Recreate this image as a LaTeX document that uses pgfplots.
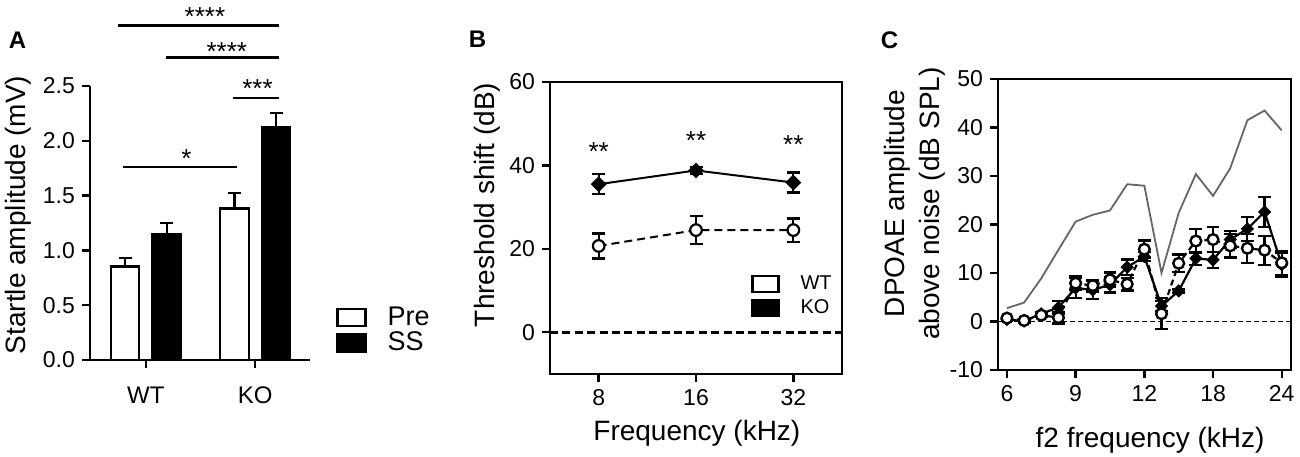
\documentclass[border=0pt]{standalone}
\usepackage{fontspec}
\setmainfont{Liberation Sans}
\usepackage{pgfplots}
\pgfplotsset{compat=1.18}
\begin{document}
\begin{tikzpicture}
\path[use as bounding box] (0,0) rectangle (650pt,228pt);
\pgfplotsset{
  every axis/.append style={
    scale only axis, anchor=south west,
    /pgf/number format/assume math mode=true,
    tick label style={font=\fontsize{11.5}{13}\selectfont},
    label style={font=\fontsize{14}{17.5}\selectfont},
    axis line style={line width=1.2pt, -},
    tick style={line width=1.2pt, black},
    tick align=outside,
    major tick length=4pt,
    tick pos=left,
    clip=false,
  },
}
% ---------------- Panel A ----------------
\begin{axis}[
  at={(45pt,48pt)}, width=110pt, height=137pt,
  xmin=-0.51, xmax=1.5, ymin=0, ymax=2.5,
  axis x line*=bottom, axis y line*=left,
  xtick={0,1}, xticklabels={WT,KO},
  xticklabel style={font=\fontsize{12}{13}\selectfont, yshift=-6pt},
  ytick={0,0.5,1,1.5,2,2.5},
  yticklabel style={/pgf/number format/.cd, fixed, fixed zerofill, precision=1},
  ylabel={Startle amplitude (mV)},
  ylabel style={at={(axis description cs:-0.327,0.529)}, anchor=center},
  bar width=0.26,
  legend style={at={(axis description cs:1.118,0.197)}, anchor=north west, draw=none, fill=none,
    inner sep=0pt, font=\fontsize{13.5}{13.5}\selectfont, row sep=2pt,
    nodes={inner sep=0pt}, /tikz/every odd column/.append style={column sep=10.5pt}},
  legend cell align=left,
]
\addplot[ybar, bar shift=0, fill=white, draw=black, line width=1.2pt,
  legend image code/.code={\draw[solid, line width=1.1pt, draw=black, fill=white] (0pt,-4.25pt) rectangle (14pt,4.25pt);},
  error bars/.cd, y dir=plus, y explicit,
  error bar style={line width=1.1pt},
  error mark options={rotate=90, mark size=3.25pt, line width=1.1pt}]
  coordinates {(-0.19,0.852) +- (0,0.076) (0.81,1.381) +- (0,0.146)};
\addlegendentry{Pre}
\addplot[ybar, bar shift=0, fill=black, draw=black, line width=1.2pt,
  legend image code/.code={\draw[solid, line width=1.1pt, draw=black, fill=black] (0pt,-4.25pt) rectangle (14pt,4.25pt);},
  error bars/.cd, y dir=plus, y explicit,
  error bar style={line width=1.1pt},
  error mark options={rotate=90, mark size=3.25pt, line width=1.1pt}]
  coordinates {(0.19,1.150) +- (0,0.097) (1.19,2.120) +- (0,0.131)};
\addlegendentry{SS}
\draw[line width=1.3pt] (axis cs:-0.25,3.05) -- (axis cs:1.22,3.05);
\draw[line width=1.3pt] (axis cs:0.18,2.76) -- (axis cs:1.22,2.76);
\draw[line width=1.3pt] (axis cs:0.80,2.39) -- (axis cs:1.22,2.39);
\draw[line width=1.3pt] (axis cs:-0.21,1.76) -- (axis cs:0.83,1.76);
\node[font=\fontsize{13}{13}\selectfont, anchor=base, yshift=-7.4pt] at (axis cs:0.54,3.19) {****};
\node[font=\fontsize{13}{13}\selectfont, anchor=base, yshift=-7.4pt] at (axis cs:0.74,2.87) {****};
\node[font=\fontsize{13}{13}\selectfont, anchor=base, yshift=-7.4pt] at (axis cs:1.02,2.53) {***};
\node[font=\fontsize{13}{13}\selectfont, anchor=base, yshift=-7.4pt] at (axis cs:0.37,1.89) {*};
\end{axis}
% ---------------- Panel B ----------------
\begin{axis}[
  at={(275pt,41pt)}, width=146pt, height=146pt,
  xmode=log, log basis x=2, xmin=5.657, xmax=45.25,
  ymin=-10, ymax=60, ytick={0,20,40,60},
  xtick={8,16,32}, xticklabels={8,16,32},
  xticklabel style={yshift=0pt},
  xlabel={Frequency (kHz)},
  xlabel style={at={(axis description cs:0.503,-0.202)}, anchor=center},
  ylabel={Threshold shift (dB)},
  ylabel style={at={(axis description cs:-0.216,0.579)}, anchor=center},
  legend style={at={(axis description cs:0.688,0.342)}, anchor=north west, draw=none, fill=none,
    inner sep=0pt, font=\fontsize{10}{10}\selectfont, row sep=3pt,
    nodes={inner sep=0pt}, /tikz/every odd column/.append style={column sep=10.5pt}},
  legend cell align=left,
]
\addplot[black, line width=1.6pt, dash pattern=on 4pt off 2.2pt, forget plot]
  coordinates {(5.657,0) (45.25,0)};
\addplot[black, line width=1pt, dash pattern=on 4pt off 2.5pt,
  mark=*, mark size=2.9pt, mark options={solid, fill=white, line width=1.1pt},
  legend image code/.code={\draw[solid, line width=1.1pt, draw=black, fill=white] (0pt,-4pt) rectangle (13pt,4pt);},
  error bars/.cd, y dir=both, y explicit,
  error bar style={line width=1.1pt, solid},
  error mark options={rotate=90, mark size=3.25pt, line width=1.1pt, solid}]
  coordinates {(8,20.7) +- (0,3.0) (16,24.5) +- (0,3.3) (32,24.5) +- (0,2.8)};
\addlegendentry{WT}
\addplot[black, line width=1pt,
  mark=square*, mark size=2.3pt, mark options={rotate=45, fill=black},
  legend image code/.code={\draw[solid, line width=1.1pt, draw=black, fill=black] (0pt,-4pt) rectangle (13pt,4pt);},
  error bars/.cd, y dir=both, y explicit,
  error bar style={line width=1.1pt},
  error mark options={rotate=90, mark size=3.25pt, line width=1.1pt}]
  coordinates {(8,35.5) +- (0,2.4) (16,38.8) +- (0,0.8) (32,35.9) +- (0,2.4)};
\addlegendentry{KO}
\node[font=\fontsize{13}{13}\selectfont, anchor=base, yshift=-7.4pt] at (axis cs:8,44.7) {**};
\node[font=\fontsize{13}{13}\selectfont, anchor=base, yshift=-7.4pt] at (axis cs:16,47.4) {**};
\node[font=\fontsize{13}{13}\selectfont, anchor=base, yshift=-7.4pt] at (axis cs:32,46.3) {**};
\end{axis}
% ---------------- Panel C ----------------
\begin{axis}[
  at={(499pt,43pt)}, width=146.5pt, height=145.5pt,
  xmin=-0.52, xmax=16.54, ymin=-10, ymax=50,
  ytick={-10,0,10,20,30,40,50},
  xtick={0,4,8,12,16}, xticklabels={6,9,12,18,24},
  xticklabel style={yshift=0pt},
  xlabel={f2 frequency (kHz)},
  xlabel style={at={(axis description cs:0.519,-0.241)}, anchor=center},
  ylabel={DPOAE amplitude\\above noise (dB SPL)},
  ylabel style={at={(axis description cs:-0.285,0.572)}, anchor=center, align=center},
]
\addplot[black, line width=0.9pt, dash pattern=on 2.5pt off 1.5pt]
  coordinates {(-0.52,0) (16.54,0)};
\addplot[black!60, line width=0.9pt] coordinates {
  (0,2.75) (1,3.9) (2,8.9) (3,14.8) (4,20.6) (5,22.0) (6,22.9) (7,28.3) (8,28.0)
  (9,10.0) (10,22.4) (11,30.4) (12,25.9) (13,31.6) (14,41.5) (15,43.5) (16,39.4)};
\addplot[black, line width=1.1pt,
  mark=square*, mark size=1.8pt, mark options={rotate=45, fill=black},
  error bars/.cd, y dir=both, y explicit,
  error bar style={line width=1.1pt},
  error mark options={rotate=90, mark size=3.2pt, line width=1.1pt}]
  coordinates {
  (0,0.4) +- (0,0.3) (1,0.1) +- (0,0.3) (2,1.6) +- (0,0.4) (3,2.9) +- (0,1.3)
  (4,6.9) +- (0,2.0) (5,6.5) +- (0,1.9) (6,7.6) +- (0,1.6) (7,11.2) +- (0,1.6)
  (8,13.4) +- (0,1.0) (9,3.2) +- (0,1.0) (10,6.3) +- (0,0.4) (11,13.0) +- (0,1.4)
  (12,12.7) +- (0,1.7) (13,16.9) +- (0,1.8) (14,19.1) +- (0,2.5) (15,22.6) +- (0,3.1)
  (16,11.7) +- (0,2.5)};
\addplot[black, line width=1.1pt, dash pattern=on 3pt off 2pt,
  mark=*, mark size=2.7pt, mark options={solid, fill=white, line width=1.2pt},
  error bars/.cd, y dir=both, y explicit,
  error bar style={line width=1.1pt, solid},
  error mark options={rotate=90, mark size=3.2pt, line width=1.1pt, solid}]
  coordinates {
  (0,0.7) +- (0,0.3) (1,0.2) +- (0,0.3) (2,1.3) +- (0,0.4) (3,0.8) +- (0,1.2)
  (4,7.9) +- (0,1.4) (5,7.4) +- (0,1.2) (6,8.6) +- (0,1.5) (7,7.7) +- (0,1.3)
  (8,14.9) +- (0,1.8) (9,1.6) +- (0,3.2) (10,12.0) +- (0,1.8) (11,16.6) +- (0,2.4)
  (12,16.9) +- (0,2.6) (13,15.6) +- (0,2.4) (14,15.1) +- (0,3.0) (15,14.7) +- (0,3.0)
  (16,12.1) +- (0,2.5)};
\end{axis}
% panel letters
\node[font=\fontsize{12}{13}\selectfont\bfseries] at (8.75pt,207.75pt) {A};
\node[font=\fontsize{12}{13}\selectfont\bfseries] at (238.75pt,208.25pt) {B};
\node[font=\fontsize{12}{13}\selectfont\bfseries] at (444.75pt,208pt) {C};
\end{tikzpicture}
\end{document}
